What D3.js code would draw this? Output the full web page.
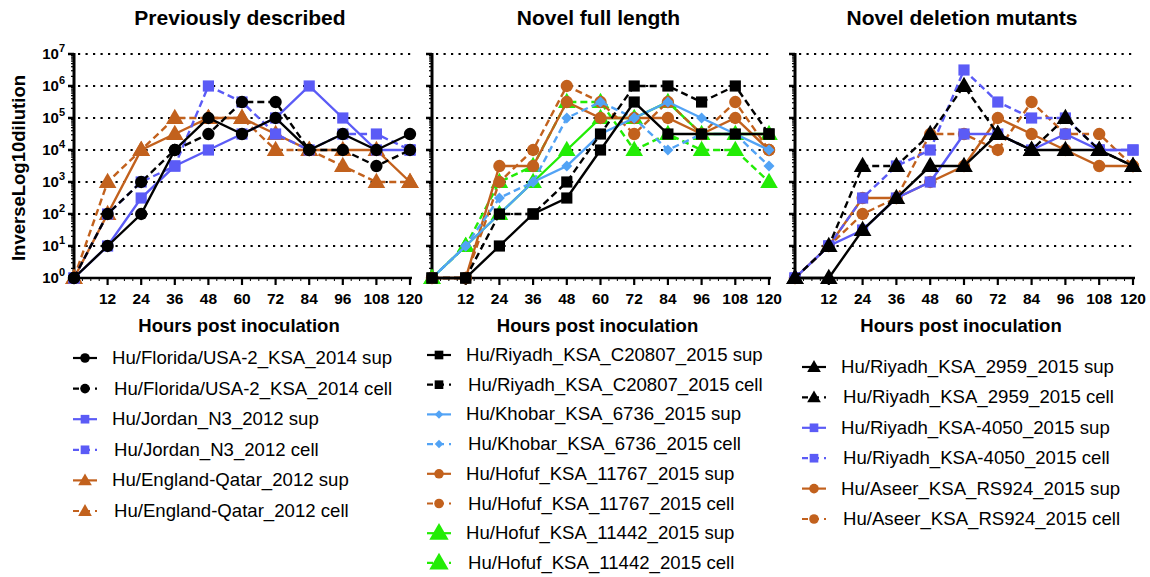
<!DOCTYPE html>
<html>
<head>
<meta charset="utf-8">
<script src="https://cdn.jsdelivr.net/npm/d3@7"></script>
<style>
  body { margin: 0; background: #fff; }
  text { font-family: "Liberation Sans", Arial, sans-serif; fill: #000; }
  .bold { font-weight: bold; }
</style>
</head>
<body>
<div id="chart"></div>
<script>
// hours post inoculation (x)
var hours = [0, 12, 24, 36, 48, 60, 72, 84, 96, 108, 120];
var yTickValues = [1e0, 1e1, 1e2, 1e3, 1e4, 1e5, 1e6, 1e7];
var panelTitles = ["Previously described", "Novel full length", "Novel deletion mutants"];

// Previously described
var floridaSup  = [1, 10, 100, 1e4, 1e5, 3.16e4, 1e5, 1e4, 3.16e4, 1e4, 3.16e4];
var floridaCell = [1, 100, 1e3, 1e4, 3.16e4, 3.16e5, 3.16e5, 1e4, 1e4, 3.16e3, 1e4];
var jordanSup   = [1, 10, 316, 3.16e3, 1e4, 3.16e4, 1e5, 1e6, 1e5, 1e4, 1e4];
var jordanCell  = [1, 100, 1e3, 3.16e3, 1e6, 3.16e5, 3.16e4, 1e4, 3.16e4, 3.16e4, 1e4];
var englandSup  = [1, 100, 1e4, 3.16e4, 1e5, 1e5, 3.16e4, 1e4, 1e4, 1e4, 1e3];
var englandCell = [1, 1e3, 1e4, 1e5, 1e5, 1e5, 1e4, 1e4, 3.16e3, 1e3, 1e3];

// Novel full length
var riyadhC20807Sup  = [1, 1, 10, 100, 316, 1e4, 3.16e5, 3.16e4, 3.16e4, 3.16e4, 3.16e4];
var riyadhC20807Cell = [1, 1, 100, 100, 1e3, 3.16e4, 1e6, 1e6, 3.16e5, 1e6, 3.16e4];
var khobarSup        = [1, 10, 100, 1e3, 3.16e3, 3.16e4, 1e5, 3.16e5, 1e5, 3.16e4, 1e4];
var khobarCell       = [1, 10, 316, 1e3, 1e5, 3.16e5, 1e5, 1e4, 3.16e4, 3.16e4, 3.16e3];
var hofuf11767Sup    = [1, 1, 3.16e3, 3.16e3, 3.16e5, 1e5, 1e5, 1e5, 3.16e4, 1e5, 1e4];
var hofuf11767Cell   = [1, 1, 1e3, 1e4, 1e6, 3.16e5, 3.16e4, 3.16e5, 3.16e4, 3.16e5, 1e4];
var hofuf11442Sup    = [1, 10, 100, 1e3, 1e4, 1e5, 1e5, 3.16e5, 3.16e4, 3.16e4, 3.16e4];
var hofuf11442Cell   = [1, 10, 1e3, 3.16e3, 3.16e5, 3.16e5, 1e4, 3.16e4, 1e4, 1e4, 1e3];

// Novel deletion mutants
var riyadh2959Sup  = [1, 1, 31.6, 316, 3.16e3, 3.16e3, 3.16e4, 1e4, 1e4, 1e4, 3.16e3];
var riyadh2959Cell = [1, 10, 3.16e3, 3.16e3, 3.16e4, 1e6, 3.16e4, 1e4, 1e5, 1e4, 3.16e3];
var riyadh4050Sup  = [1, 10, 31.6, 316, 1e3, 3.16e4, 3.16e4, 1e4, 3.16e4, 1e4, 1e4];
var riyadh4050Cell = [1, 10, 316, 3.16e3, 1e4, 3.16e6, 3.16e5, 1e5, 1e5, 1e4, 1e4];
var aseerSup       = [1, 10, 316, 316, 1e3, 3.16e3, 1e5, 3.16e4, 1e4, 3.16e3, 3.16e3];
var aseerCell      = [1, 10, 100, 316, 3.16e4, 3.16e4, 1e4, 3.16e5, 3.16e4, 3.16e4, 3.16e3];

var black = "#000000", blue = "#5b5bf6", lightBlue = "#52a3f5", orange = "#c2611d", green = "#22ec05";

var panels = [
  { x0: 74, x1: 410, yLabels: true, legX: 73, legTextX: 112, legY: 358, legDy: 30.6,
    series: [
      { name: "Hu/Florida/USA-2_KSA_2014 sup", values: floridaSup, color: black, symbol: "circle", dashed: false },
      { name: "Hu/Florida/USA-2_KSA_2014 cell", values: floridaCell, color: black, symbol: "circle", dashed: true },
      { name: "Hu/Jordan_N3_2012 sup", values: jordanSup, color: blue, symbol: "square", dashed: false },
      { name: "Hu/Jordan_N3_2012 cell", values: jordanCell, color: blue, symbol: "square", dashed: true },
      { name: "Hu/England-Qatar_2012 sup", values: englandSup, color: orange, symbol: "triangle", dashed: false },
      { name: "Hu/England-Qatar_2012 cell", values: englandCell, color: orange, symbol: "triangle", dashed: true }
    ] },
  { x0: 432, x1: 769, yLabels: false, legX: 427, legTextX: 466, legY: 355, legDy: 29.7,
    series: [
      { name: "Hu/Riyadh_KSA_C20807_2015 sup", values: riyadhC20807Sup, color: black, symbol: "square", dashed: false },
      { name: "Hu/Riyadh_KSA_C20807_2015 cell", values: riyadhC20807Cell, color: black, symbol: "square", dashed: true },
      { name: "Hu/Khobar_KSA_6736_2015 sup", values: khobarSup, color: lightBlue, symbol: "diamond", dashed: false },
      { name: "Hu/Khobar_KSA_6736_2015 cell", values: khobarCell, color: lightBlue, symbol: "diamond", dashed: true },
      { name: "Hu/Hofuf_KSA_11767_2015 sup", values: hofuf11767Sup, color: orange, symbol: "circle", dashed: false },
      { name: "Hu/Hofuf_KSA_11767_2015 cell", values: hofuf11767Cell, color: orange, symbol: "circle", dashed: true },
      { name: "Hu/Hofuf_KSA_11442_2015 sup", values: hofuf11442Sup, color: green, symbol: "triangle", dashed: false },
      { name: "Hu/Hofuf_KSA_11442_2015 cell", values: hofuf11442Cell, color: green, symbol: "triangle", dashed: true }
    ] },
  { x0: 795, x1: 1133, yLabels: false, legX: 802, legTextX: 841, legY: 367, legDy: 30.4,
    series: [
      { name: "Hu/Riyadh_KSA_2959_2015 sup", values: riyadh2959Sup, color: black, symbol: "triangle", dashed: false },
      { name: "Hu/Riyadh_KSA_2959_2015 cell", values: riyadh2959Cell, color: black, symbol: "triangle", dashed: true },
      { name: "Hu/Riyadh_KSA-4050_2015 sup", values: riyadh4050Sup, color: blue, symbol: "square", dashed: false },
      { name: "Hu/Riyadh_KSA-4050_2015 cell", values: riyadh4050Cell, color: blue, symbol: "square", dashed: true },
      { name: "Hu/Aseer_KSA_RS924_2015 sup", values: aseerSup, color: orange, symbol: "circle", dashed: false },
      { name: "Hu/Aseer_KSA_RS924_2015 cell", values: aseerCell, color: orange, symbol: "circle", dashed: true }
    ] }
];

var width = 1150, height = 577;
var yTop = 54, yBottom = 278;
var dash = "7,4";

var svg = d3.select("#chart").append("svg")
  .attr("width", width)
  .attr("height", height);

var symbolTypes = {
  circle: [d3.symbolCircle, 120, 0],
  square: [d3.symbolSquare, 125, 0],
  triangle: [d3.symbolTriangle, 135, 0],
  diamond: [d3.symbolSquare, 60, 45]
};

function drawMarker(g, type, color, x, y, scale) {
  var s = symbolTypes[type];
  g.append("path")
    .attr("d", d3.symbol().type(s[0]).size(s[1] * scale)())
    .attr("transform", "translate(" + x + "," + (type == "triangle" ? y + 1 : y) + ") rotate(" + s[2] + ")")
    .attr("fill", color);
}

var y = d3.scaleLog().domain([1, 1e7]).range([yBottom, yTop]);

panels.forEach(function(panel, pi) {
  var x = d3.scaleLinear().domain([0, 120]).range([panel.x0, panel.x1]);
  var g = svg.append("g").attr("class", "panel-" + pi);

  // title
  g.append("text")
    .attr("class", "bold")
    .attr("x", (panel.x0 + panel.x1) / 2 - 2)
    .attr("y", 25)
    .attr("text-anchor", "middle")
    .style("font-size", "21px")
    .text(panelTitles[pi]);

  // dotted grid
  g.selectAll(".grid").data(yTickValues.slice(1)).enter()
    .append("line")
    .attr("x1", panel.x0 + 4)
    .attr("x2", panel.x1 + 3)
    .attr("y1", d => y(d))
    .attr("y2", d => y(d))
    .attr("stroke", "#000")
    .attr("stroke-width", 2.2)
    .attr("stroke-dasharray", "2.2,5.3");

  // y axis with log minor ticks
  var yAxis = g.append("g").attr("transform", "translate(" + panel.x0 + ",0)");
  var minor = [];
  for (var e = 0; e < 7; e++) {
    for (var m = 2; m < 10; m++) minor.push(m * Math.pow(10, e));
  }
  yAxis.selectAll(".minor").data(minor).enter().append("line")
    .attr("x1", -3).attr("x2", 0)
    .attr("y1", d => y(d)).attr("y2", d => y(d))
    .attr("stroke", "#000").attr("stroke-width", 1.2);
  yAxis.selectAll(".major").data(yTickValues).enter().append("line")
    .attr("x1", -6).attr("x2", 0)
    .attr("y1", d => y(d)).attr("y2", d => y(d))
    .attr("stroke", "#000").attr("stroke-width", 2.5);
  yAxis.append("line")
    .attr("x1", 0).attr("x2", 0)
    .attr("y1", yTop - 1).attr("y2", yBottom + 1)
    .attr("stroke", "#000").attr("stroke-width", 3);

  if (panel.yLabels) {
    var lab = yAxis.selectAll(".ylab").data(yTickValues).enter().append("text")
      .attr("class", "bold")
      .attr("x", -9)
      .attr("y", d => y(d) + 5)
      .attr("text-anchor", "end")
      .style("font-size", "15px");
    lab.append("tspan").text("10");
    lab.append("tspan")
      .attr("dy", -7)
      .style("font-size", "11px")
      .text(d => Math.round(Math.log10(d)));

    g.append("text")
      .attr("class", "bold")
      .attr("transform", "translate(25," + 168 + ") rotate(-90)")
      .attr("text-anchor", "middle")
      .style("font-size", "18.5px")
      .text("InverseLog10dilution");
  }

  // x axis
  var xAxis = g.append("g").attr("transform", "translate(0," + yBottom + ")");
  xAxis.append("line")
    .attr("x1", panel.x0).attr("x2", panel.x1 + 2)
    .attr("stroke", "#000").attr("stroke-width", 2.5);
  xAxis.selectAll(".xminor").data(d3.range(3, 120, 3)).enter().append("line")
    .attr("x1", d => x(d)).attr("x2", d => x(d))
    .attr("y1", 0).attr("y2", 3)
    .attr("stroke", "#000").attr("stroke-width", 1);
  xAxis.selectAll(".xtick").data(hours.slice(1)).enter().append("line")
    .attr("x1", d => x(d)).attr("x2", d => x(d))
    .attr("y1", 0).attr("y2", 7)
    .attr("stroke", "#000").attr("stroke-width", 2.2);
  xAxis.selectAll(".xlab").data(hours.slice(1)).enter().append("text")
    .attr("class", "bold")
    .attr("x", d => x(d))
    .attr("y", 26)
    .attr("text-anchor", "middle")
    .style("font-size", "15.5px")
    .text(d => d);
  g.append("text")
    .attr("class", "bold")
    .attr("x", (panel.x0 + panel.x1) / 2 - 3)
    .attr("y", 332)
    .attr("text-anchor", "middle")
    .style("font-size", "18.5px")
    .text("Hours post inoculation");

  // series, first legend entry drawn on top
  var line = d3.line().x((d, i) => x(hours[i])).y(d => y(d));
  panel.series.slice().reverse().forEach(function(s) {
    var sg = g.append("g");
    sg.append("path")
      .attr("d", line(s.values))
      .attr("fill", "none")
      .attr("stroke", s.color)
      .attr("stroke-width", 2.4)
      .attr("stroke-dasharray", s.dashed ? dash : null);
    s.values.forEach(function(v, i) {
      drawMarker(sg, s.symbol, s.color, x(hours[i]), y(v), 1);
    });
  });

  // legend
  var leg = g.append("g");
  panel.series.forEach(function(s, i) {
    var ly = panel.legY + i * panel.legDy;
    var row = leg.append("g");
    row.append("line")
      .attr("x1", panel.legX).attr("x2", panel.legX + 24)
      .attr("y1", ly).attr("y2", ly)
      .attr("stroke", s.color)
      .attr("stroke-width", 2.2)
      .attr("stroke-dasharray", s.dashed ? "6,5" : null);
    drawMarker(row, s.symbol, s.color, panel.legX + 12, ly, s.symbol == "triangle" && s.color == green ? 1.2 : 0.6);
    row.append("text")
      .attr("x", panel.legTextX + (i % 2) * 2)
      .attr("y", ly + 6)
      .style("font-size", "18.6px")
      .text(s.name);
  });
});
</script>
</body>
</html>
